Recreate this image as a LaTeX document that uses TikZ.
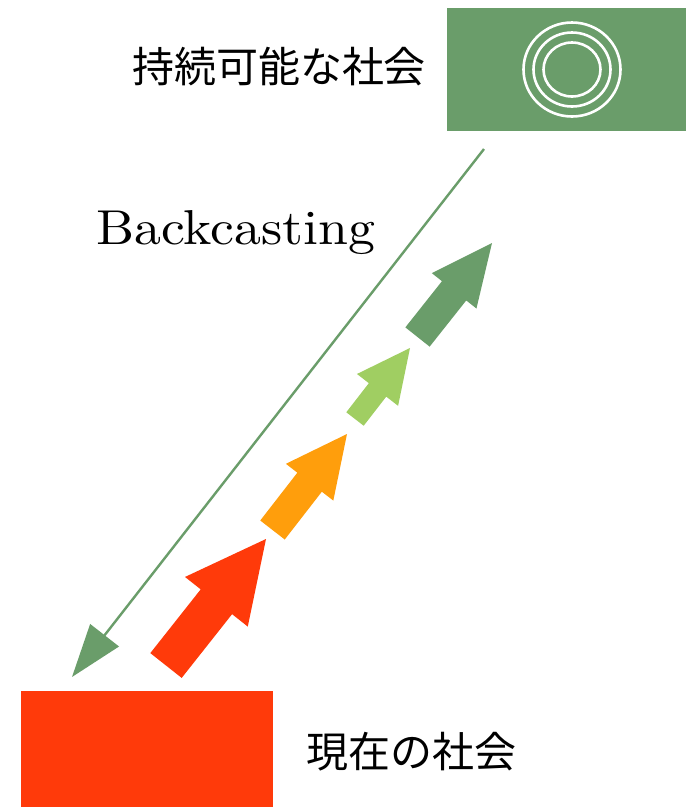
\documentclass[tikz,border=0pt]{standalone}
\usepackage{fontspec}
\newfontfamily\cjk{Noto Sans CJK JP}
\usetikzlibrary{calc,arrows.meta}
\definecolor{sgreen}{RGB}{106,157,106}
\definecolor{cred}{RGB}{255,58,10}
\definecolor{corange}{RGB}{255,158,12}
\definecolor{lgreen}{RGB}{160,206,98}
% #1 name, #2 colour, #3 tail midpoint, #4 tip, #5 shaft half width, #6 head half width, #7 head length
\newcommand\fatarrow[7]{%
  \coordinate (#1-t) at (#3);
  \coordinate (#1-p) at (#4);
  \coordinate (#1-b) at ($(#1-p)!#7!(#1-t)$);
  \fill[#2] ($(#1-t)!#5!90:(#1-p)$) -- ($(#1-b)!#5!90:(#1-p)$) -- ($(#1-b)!#6!90:(#1-p)$)
    -- (#1-p) -- ($(#1-b)!#6!-90:(#1-p)$) -- ($(#1-b)!#5!-90:(#1-p)$) -- ($(#1-t)!#5!-90:(#1-p)$) -- cycle;
}
\tikzset{
  jtext/.style={font=\cjk\fontsize{42}{50}\selectfont, inner sep=0pt, text=black},
  ring/.style={draw=white, line width=2.6pt},
}
\begin{document}
\begin{tikzpicture}[x=1pt,y=-1pt]
\useasboundingbox[fill=white] (0,0) rectangle (686,807);
% goal box
\node[fill=sgreen, inner sep=0pt, minimum width=239pt, minimum height=123pt, anchor=north west] (goal) at (447,8) {};
\draw[ring] (572,69.5) ellipse [x radius=48.5, y radius=47];
\draw[ring] (572,69.5) ellipse [x radius=38.5, y radius=37];
\draw[ring] (572,69.5) ellipse [x radius=28.5, y radius=27];
\node[jtext] (goaltxt) at (279,67) {持続可能な社会};
% present box
\node[fill=cred, inner sep=0pt, minimum width=252pt, minimum height=116pt, anchor=north west] (now) at (21,691) {};
\node[jtext] (nowtxt) at (411,752) {現在の社会};
% backcasting
\node[anchor=base west, inner sep=0pt] (bc) at (96,244) {\resizebox{279pt}{34pt}{Backcasting}};
\coordinate (bcs) at (484,149);
\coordinate (bce) at (72,677);
\draw[sgreen, line width=2.4pt, -{Triangle[length=53pt,width=36pt]}] (bcs) -- (bce);
% step arrows
\fatarrow{a1}{cred}{166,665.5}{266,539}{20pt}{40pt}{80pt}
\fatarrow{a2}{corange}{272.5,530}{347,434}{15.5pt}{30pt}{61pt}
\fatarrow{a3}{lgreen}{355,419}{410,348}{11pt}{26pt}{53pt}
\fatarrow{a4}{sgreen}{417.5,337}{492,243}{15.5pt}{28.5pt}{61pt}
\end{tikzpicture}
\end{document}
